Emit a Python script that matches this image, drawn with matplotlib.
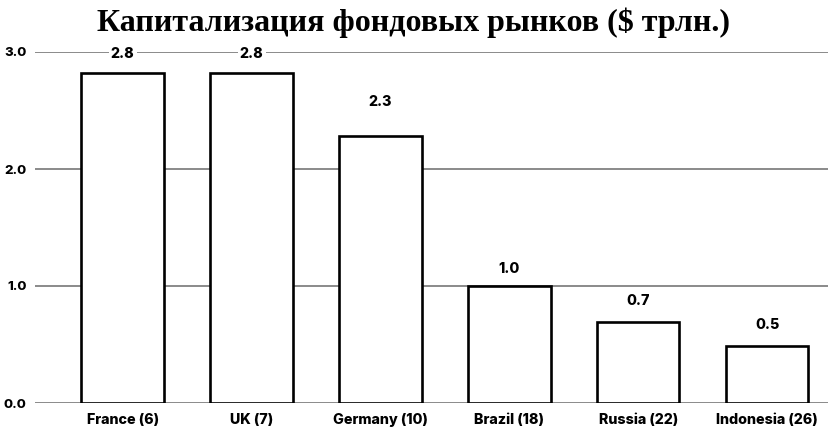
import matplotlib
matplotlib.use("Agg")
import matplotlib.pyplot as plt

countries = ["France (6)", "UK (7)", "Germany (10)", "Brazil (18)", "Russia (22)", "Indonesia (26)"]
cap = [2.82, 2.82, 2.28, 1.0, 0.69, 0.49]
labels = ["2.8", "2.8", "2.3", "1.0", "0.7", "0.5"]
yticks = [0.0, 1.0, 2.0, 3.0]

label_offsets_pt = [14, 14, 25, 12, 15, 15]

fig = plt.figure(figsize=(8.29, 4.32), dpi=100)
ax = fig.add_axes([35/829, (432-403)/432, 1 - 35/829, (403-52)/432])

x = list(range(len(countries)))
ax.bar(x, cap, width=0.64, color="white", edgecolor="black", linewidth=1.9, zorder=3)

for xi, v, lab, off in zip(x, cap, labels, label_offsets_pt):
    ax.annotate(lab, (xi, v), xytext=(0, off), textcoords="offset points",
                ha="center", va="center", fontsize=10.3, fontweight=800,
                family="Inter", zorder=5, annotation_clip=False,
                bbox=dict(boxstyle="square,pad=0.15", fc="white", ec="none"))

ax.set_xlim(-0.68, 5.48)
ax.set_ylim(0, 3)
ax.set_yticks(yticks)
ax.set_yticklabels([f"{t:.1f}" for t in yticks], fontsize=9.5, fontweight=800, family="Inter")
ax.set_xticks(x)
ax.set_xticklabels(countries, fontsize=10.3, fontweight=800, family="Inter")
ax.tick_params(axis="both", length=0)
ax.tick_params(axis="y", pad=6)
ax.tick_params(axis="x", pad=7)
for s in ax.spines.values():
    s.set_visible(False)
ax.grid(axis="y", color="#8a8a8a", linewidth=1.4, zorder=0)
ax.set_axisbelow(True)

fig.text(0.499, 0.948, "Капитализация фондовых рынков ($ трлн.)", ha="center", va="center",
         fontsize=23, fontweight="bold", family="Liberation Serif")

fig.savefig("out.png", dpi=100)
